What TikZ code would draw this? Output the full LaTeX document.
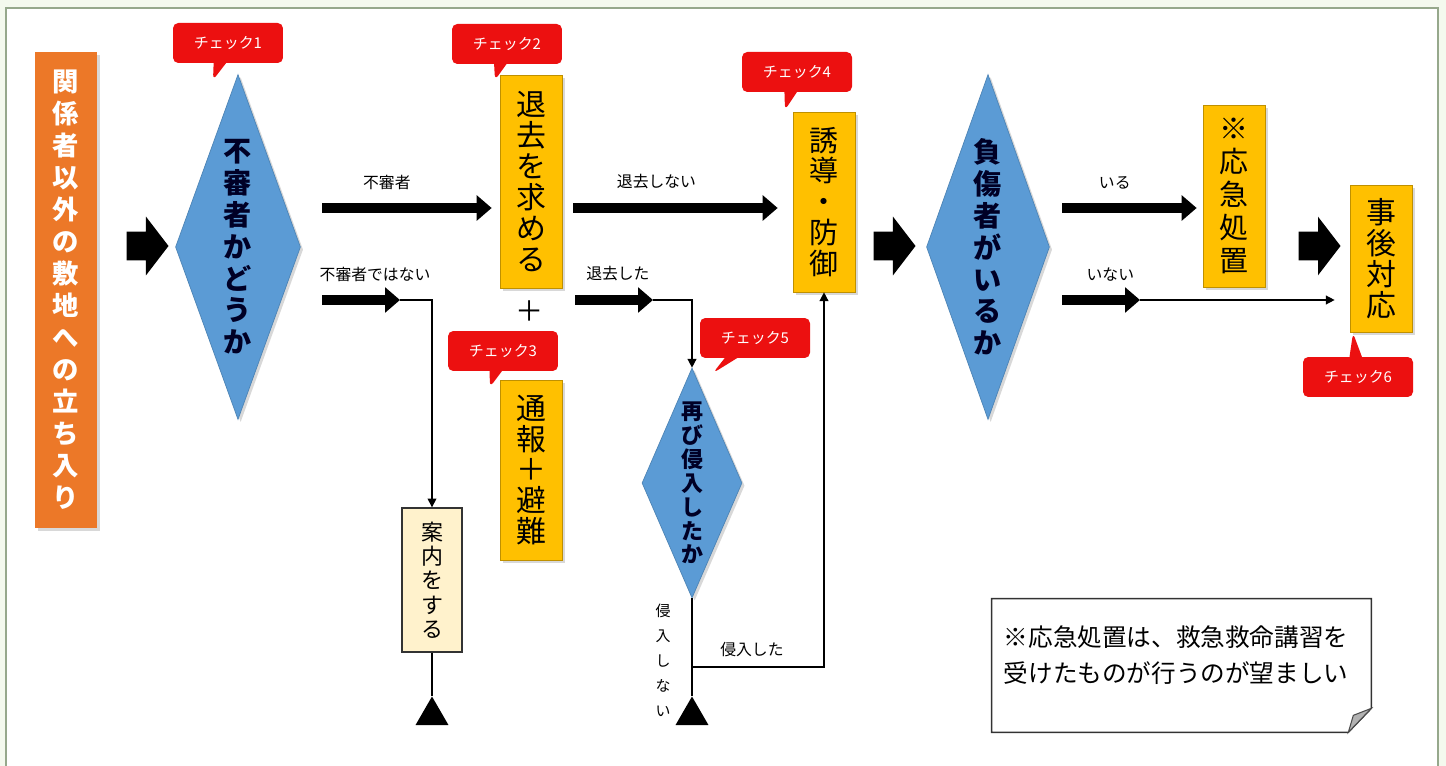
\documentclass[tikz,border=0pt]{standalone}
\usepackage{fontspec}
\setmainfont{Noto Sans CJK JP}
\usepackage{tikz}
\usetikzlibrary{arrows.meta,positioning,shapes.geometric,shapes.arrows,shapes.callouts,shadows}
\definecolor{startorange}{RGB}{236,120,40}
\definecolor{qblue}{RGB}{91,155,213}
\definecolor{actyellow}{RGB}{255,192,0}
\definecolor{chkred}{RGB}{236,16,16}
\definecolor{guidecream}{RGB}{255,242,204}
\definecolor{framegreen}{RGB}{150,168,140}
\definecolor{framebg}{RGB}{244,249,238}
\tikzstyle{entrybox} = [rectangle, fill=startorange, text=white, inner sep=0pt,
minimum width=1.24cm, minimum height=9.52cm, align=center,
font=\bfseries\fontsize{15}{18.2}\selectfont,
drop shadow={opacity=0.3,shadow xshift=1.5pt,shadow yshift=-1.5pt}]
\tikzstyle{decision} = [diamond, fill=qblue, draw=qblue!85!black, text=black!85!blue,
inner sep=0pt, align=center, font=\bfseries\fontsize{16}{18.1}\selectfont,
drop shadow={opacity=0.3,shadow xshift=1.5pt,shadow yshift=-1.5pt}]
\tikzstyle{action} = [rectangle, fill=actyellow, draw=actyellow!75!black, inner sep=0pt,
minimum width=1.24cm, align=center, font=\fontsize{17}{17.6}\selectfont,
drop shadow={opacity=0.3,shadow xshift=1.5pt,shadow yshift=-1.5pt}]
\tikzstyle{guide} = [rectangle, fill=guidecream, draw=black!80, line width=0.8pt, inner sep=0pt,
align=center, font=\fontsize{12.5}{13.8}\selectfont]
\tikzstyle{check} = [rectangle callout, fill=chkred, text=white, rounded corners=3pt,
minimum width=2.2cm, minimum height=0.8cm, inner sep=0pt, font=\fontsize{8.5}{10}\selectfont]
\tikzstyle{bigarrow} = [single arrow, fill=black, inner xsep=0pt, inner ysep=0.28cm,
minimum width=1.16cm, minimum height=0.84cm, single arrow head extend=0.3cm,
single arrow tip angle=105]
\tikzstyle{endmark} = [regular polygon, regular polygon sides=3, fill=black, inner sep=0pt,
minimum size=0.76cm]
\tikzstyle{lbl} = [font=\fontsize{9}{10}\selectfont, inner sep=0pt]
\tikzstyle{flow} = [line width=6.2pt, -{Triangle[length=8.5pt,width=14pt]}]
\tikzstyle{wire} = [line width=0.8pt]
\tikzstyle{wirearrow} = [line width=0.8pt, -{Triangle[length=5pt,width=5pt]}]

\begin{document}
\begin{tikzpicture}[x=0.02cm, y=-0.02cm]
\useasboundingbox (0,0) rectangle (1446,766);
\fill[framebg] (0,0) rectangle (1446,766);
\fill[white] (6,8) rectangle (1438,766);
\draw[framegreen, line width=1pt] (6,766) -- (6,8) -- (1438,8) -- (1438,766);

\node[entrybox] (entry) at (66,290) {関\\係\\者\\以\\外\\の\\敷\\地\\へ\\の\\立\\ち\\入\\り};
\node[bigarrow] (arr1) at (142,246) {};
\node[decision, aspect=0.362, minimum width=2.5cm, minimum height=6.9cm] (suspect) at (238,247) {不\\審\\者\\か\\ど\\う\\か};

\node[action, minimum height=4.26cm] (leave) at (531,181.5) {退\\去\\を\\求\\め\\る};
\node[font=\fontsize{16}{18}\selectfont] (plus) at (530,311) {＋};
\node[action, minimum height=3.6cm] (report) at (531,470) {通\\報\\＋\\避\\難};
\node[guide, minimum width=1.2cm, minimum height=2.88cm] (guide) at (432,580) {案\\内\\を\\す\\る};
\node[endmark] (end1) at (432,715.5) {};

\node[action, minimum height=3.6cm, font=\fontsize{16.5}{17.6}\selectfont] (guard) at (824,202) {誘\\導\\・\\防\\御};
\node[decision, aspect=0.435, minimum width=2cm, minimum height=4.6cm,
font=\bfseries\fontsize{12.5}{13.6}\selectfont] (again) at (692,483) {再\\び\\侵\\入\\し\\た\\か};
\node[endmark] (end2) at (692,715.5) {};
\node[lbl, align=center, font=\fontsize{8.5}{14.2}\selectfont] (noentry) at (663,660) {侵\\入\\し\\な\\い};

\node[bigarrow] (arr2) at (889,246) {};
\node[decision, aspect=0.357, minimum width=2.46cm, minimum height=6.9cm] (injured) at (988,247) {負\\傷\\者\\が\\い\\る\\か};
\node[action, minimum height=3.64cm, font=\fontsize{16.5}{18.7}\selectfont] (aid) at (1234,196) {※\\応\\急\\処\\置};
\node[bigarrow] (arr3) at (1314,246) {};
\node[action, minimum height=2.94cm] (after) at (1381,258.5) {事\\後\\対\\応};

% check points
\node[check, callout absolute pointer={(213,80)}] (chk1) at (228,43) {チェック1};
\node[check, callout absolute pointer={(495,80)}] (chk2) at (507,44) {チェック2};
\node[check, callout absolute pointer={(490,387)}] (chk3) at (503,351) {チェック3};
\node[check, callout absolute pointer={(785,110)}] (chk4) at (797,72) {チェック4};
\node[check, callout absolute pointer={(713,373)}] (chk5) at (755,338) {チェック5};
\node[check, callout absolute pointer={(1353,333)}] (chk6) at (1358,377) {チェック6};

% branches
\coordinate (s1) at (322,208);
\coordinate (s2) at (322,300);
\coordinate (k2) at (400,300);
\coordinate (s3) at (573,208);
\coordinate (s4) at (575,300);
\coordinate (k4) at (653,300);
\coordinate (j5) at (692,667);
\coordinate (s5) at (1062,208);
\coordinate (s6) at (1062,300);
\coordinate (k6) at (1140,300);

\draw[flow, shorten >=0.16cm] (s1) -- node[lbl, above=7.5pt, pos=0.365] {不審者} (leave.west |- s1);
\draw[flow] (s2) -- node[lbl, above=7.5pt, pos=0.68] {不審者ではない} (k2);
\draw[wirearrow] (k2) -| (guide.north);
\draw[wire] (guide.south) -- (end1.corner 1);

\draw[flow, shorten >=0.3cm] (s3) -- node[lbl, above=7.5pt, pos=0.38] {退去しない} (guard.west |- s3);
\draw[flow] (s4) -- node[lbl, above=7.5pt, pos=0.55] {退去した} (k4);
\draw[wirearrow] (k4) -| (again.north);
\draw[wire] (again.south) -- (end2.corner 1);
\draw[wirearrow] (j5) -| node[lbl, above=5.5pt, pos=0.227] {侵入した} (guard.south);

\draw[flow, shorten >=0.12cm] (s5) -- node[lbl, above=7.5pt, pos=0.375] {いる} (aid.west |- s5);
\draw[flow] (s6) -- node[lbl, above=7.5pt, pos=0.62] {いない} (k6);
\draw[wirearrow, shorten >=0.3cm] (k6) -- (after.west |- k6);

% remark
\node[minimum width=7.58cm, minimum height=2.66cm, inner sep=0pt] (remark) at (1181.5,665.5) {};
\draw[line width=0.8pt, draw=black!80, fill=white] (remark.north west) -- (remark.north east)
  -- ([yshift=0.48cm]remark.south east) -- ([xshift=-0.46cm]remark.south east)
  -- (remark.south west) -- cycle;
\draw[line width=0.6pt, draw=black!70, fill=black!30] ([yshift=0.48cm]remark.south east)
  -- ([xshift=-0.46cm]remark.south east) -- ([shift={(-0.36cm,0.34cm)}]remark.south east) -- cycle;
\node[align=left, inner sep=0pt, font=\fontsize{14}{20.4}\selectfont] (remarktext) at (1176,655)
  {※応急処置は、救急救命講習を\\受けたものが行うのが望ましい};
\end{tikzpicture}
\end{document}
